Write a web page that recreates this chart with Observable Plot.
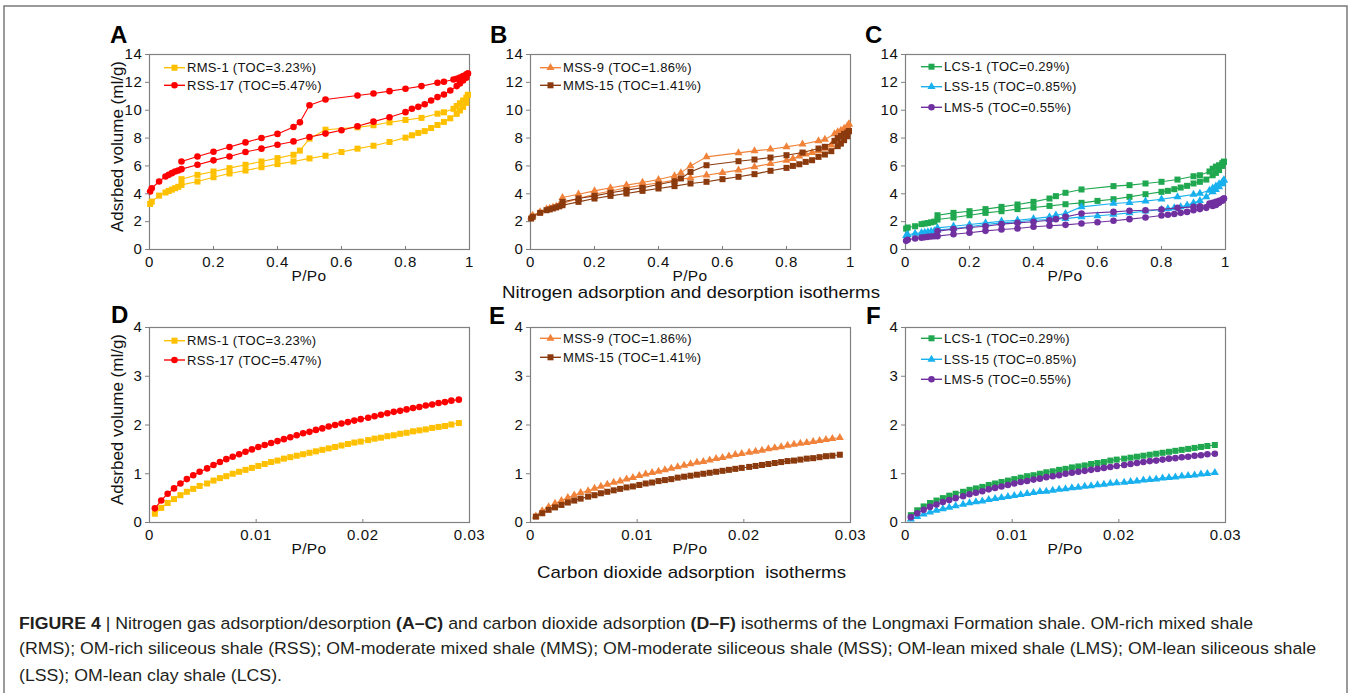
<!DOCTYPE html>
<html><head><meta charset="utf-8">
<script src="https://cdn.jsdelivr.net/npm/d3@7"></script>
<script src="https://cdn.jsdelivr.net/npm/@observablehq/plot@0.6"></script>
<style>
html,body{margin:0;padding:0;background:#fff;}
#root{position:relative;width:1352px;height:693px;overflow:hidden;}
</style></head><body><div id="root"></div>
<script>
// ---------- tick labels ----------
const N2_X_TICKS = [0, 0.2, 0.4, 0.6, 0.8, 1];
const N2_Y_TICKS = [0, 2, 4, 6, 8, 10, 12, 14];
const CO2_X_TICKS = [0, 0.01, 0.02, 0.03];
const CO2_Y_TICKS = [0, 1, 2, 3, 4];

// ---------- N2 relative pressures ----------
const N2_P_ADS = [0.002, 0.007, 0.03, 0.05, 0.06, 0.07, 0.08, 0.09, 0.1, 0.15, 0.2, 0.25, 0.3, 0.35, 0.4, 0.45, 0.5, 0.55, 0.6, 0.65, 0.7, 0.75, 0.8, 0.82, 0.84, 0.86, 0.88, 0.9, 0.92, 0.94, 0.96, 0.97, 0.98, 0.99, 0.995];
const N2_P_DES = [0.995, 0.99, 0.98, 0.97, 0.96, 0.95, 0.92, 0.9, 0.85, 0.8, 0.75, 0.7, 0.65, 0.55, 0.5, 0.47, 0.45, 0.4, 0.35, 0.3, 0.25, 0.2, 0.15, 0.1];

// ---------- N2 adsorbed volume (ml/g) ----------
const RMS1_N2_ADS = [3.27, 3.44, 3.87, 4.09, 4.2, 4.3, 4.4, 4.5, 4.64, 4.88, 5.19, 5.46, 5.67, 5.91, 6.13, 6.32, 6.54, 6.73, 7.0, 7.24, 7.45, 7.72, 8.03, 8.2, 8.37, 8.5, 8.72, 8.94, 9.16, 9.42, 9.74, 9.98, 10.24, 10.53, 11.1];
const RMS1_N2_DES = [11.1, 10.9, 10.7, 10.5, 10.3, 10.1, 9.85, 9.75, 9.45, 9.3, 9.13, 8.92, 8.77, 8.6, 7.96, 7.1, 6.8, 6.56, 6.32, 6.08, 5.84, 5.6, 5.36, 5.05];
const RSS17_N2_ADS = [4.16, 4.4, 4.88, 5.24, 5.36, 5.48, 5.6, 5.67, 5.77, 6.08, 6.4, 6.68, 7.0, 7.24, 7.52, 7.76, 8.08, 8.32, 8.56, 8.85, 9.18, 9.5, 9.86, 10.1, 10.24, 10.43, 10.7, 10.94, 11.13, 11.42, 11.73, 11.92, 12.14, 12.33, 12.64];
const RSS17_N2_DES = [12.64, 12.57, 12.45, 12.35, 12.26, 12.2, 12.04, 11.97, 11.73, 11.54, 11.37, 11.2, 11.06, 10.77, 10.36, 9.13, 8.8, 8.3, 8.0, 7.69, 7.36, 7.02, 6.68, 6.32];
const MSS9_N2_ADS = [2.34, 2.45, 2.7, 2.9, 2.95, 3.02, 3.1, 3.18, 3.3, 3.66, 3.97, 4.2, 4.43, 4.62, 4.78, 4.98, 5.14, 5.33, 5.52, 5.7, 5.93, 6.17, 6.4, 6.53, 6.7, 6.84, 6.96, 7.08, 7.25, 7.49, 7.8, 8.04, 8.28, 8.56, 9.0];
const MSS9_N2_DES = [9.0, 8.85, 8.7, 8.55, 8.45, 8.3, 7.9, 7.8, 7.56, 7.37, 7.2, 7.08, 6.94, 6.65, 6.0, 5.5, 5.29, 5.02, 4.81, 4.62, 4.43, 4.21, 3.97, 3.73];
const MMS15_N2_ADS = [2.22, 2.35, 2.63, 2.82, 2.88, 2.95, 3.02, 3.1, 3.18, 3.42, 3.66, 3.85, 4.02, 4.21, 4.38, 4.55, 4.74, 4.86, 5.05, 5.22, 5.41, 5.65, 5.86, 6.0, 6.12, 6.29, 6.41, 6.65, 6.82, 7.06, 7.42, 7.6, 7.85, 8.13, 8.5];
const MMS15_N2_DES = [8.5, 8.4, 8.3, 8.15, 8.0, 7.8, 7.37, 7.25, 6.96, 6.77, 6.6, 6.46, 6.34, 6.05, 5.57, 5.1, 4.9, 4.67, 4.43, 4.26, 4.07, 3.85, 3.66, 3.42];
const LCS1_N2_ADS = [1.5, 1.58, 1.67, 1.82, 1.86, 1.9, 1.95, 2.0, 2.15, 2.3, 2.46, 2.63, 2.75, 2.9, 3.01, 3.13, 3.25, 3.35, 3.49, 3.61, 3.78, 3.97, 4.14, 4.21, 4.33, 4.45, 4.57, 4.74, 4.86, 5.02, 5.33, 5.5, 5.7, 6.0, 6.3];
const LCS1_N2_DES = [6.3, 6.2, 6.05, 5.95, 5.8, 5.6, 5.33, 5.26, 5.02, 4.86, 4.74, 4.62, 4.55, 4.31, 4.07, 3.83, 3.66, 3.42, 3.23, 3.06, 2.9, 2.75, 2.63, 2.46];
const LSS15_N2_ADS = [1.0, 1.06, 1.15, 1.2, 1.23, 1.27, 1.3, 1.34, 1.39, 1.51, 1.63, 1.8, 1.91, 1.99, 2.1, 2.15, 2.22, 2.34, 2.42, 2.51, 2.63, 2.75, 2.87, 2.93, 2.99, 3.06, 3.18, 3.35, 3.5, 3.78, 4.14, 4.3, 4.5, 4.7, 4.98];
const LSS15_N2_DES = [4.98, 4.85, 4.7, 4.55, 4.4, 4.25, 4.02, 3.95, 3.78, 3.61, 3.47, 3.37, 3.3, 3.06, 2.58, 2.46, 2.34, 2.22, 2.1, 2.03, 1.91, 1.79, 1.67, 1.55];
const LMS5_N2_ADS = [0.62, 0.7, 0.79, 0.85, 0.88, 0.91, 0.93, 0.95, 0.96, 1.1, 1.2, 1.34, 1.44, 1.51, 1.63, 1.7, 1.77, 1.87, 1.96, 2.06, 2.18, 2.3, 2.44, 2.5, 2.55, 2.63, 2.7, 2.82, 2.9, 2.99, 3.13, 3.2, 3.35, 3.5, 3.66];
const LMS5_N2_DES = [3.66, 3.58, 3.5, 3.43, 3.36, 3.3, 3.11, 3.06, 2.99, 2.87, 2.82, 2.78, 2.7, 2.58, 2.34, 2.18, 2.1, 1.99, 1.91, 1.82, 1.67, 1.58, 1.46, 1.32];

// ---------- CO2 relative pressures ----------
const CO2_P = [0.0005, 0.0011, 0.0017, 0.0023, 0.0029, 0.0035, 0.0041, 0.0047, 0.0054, 0.0060, 0.0066, 0.0072, 0.0078, 0.0084, 0.0090, 0.0096, 0.0102, 0.0108, 0.0114, 0.0120, 0.0126, 0.0132, 0.0138, 0.0144, 0.0150, 0.0156, 0.0162, 0.0168, 0.0174, 0.0180, 0.0186, 0.0192, 0.0198, 0.0205, 0.0211, 0.0217, 0.0223, 0.0229, 0.0235, 0.0241, 0.0247, 0.0253, 0.0259, 0.0265, 0.0271, 0.0277, 0.0283, 0.0290];

// ---------- CO2 adsorbed volume (ml/g) ----------
const RMS1_CO2 = [0.18, 0.30, 0.40, 0.48, 0.56, 0.63, 0.69, 0.75, 0.80, 0.86, 0.91, 0.95, 1.00, 1.04, 1.08, 1.12, 1.16, 1.20, 1.24, 1.27, 1.31, 1.34, 1.37, 1.40, 1.43, 1.46, 1.49, 1.52, 1.55, 1.58, 1.61, 1.64, 1.66, 1.69, 1.72, 1.74, 1.77, 1.79, 1.82, 1.84, 1.87, 1.89, 1.91, 1.94, 1.96, 1.98, 2.01, 2.04];
const RSS17_CO2 = [0.29, 0.45, 0.59, 0.70, 0.80, 0.89, 0.97, 1.04, 1.11, 1.18, 1.24, 1.30, 1.35, 1.40, 1.45, 1.50, 1.55, 1.59, 1.63, 1.67, 1.71, 1.75, 1.79, 1.83, 1.86, 1.90, 1.93, 1.97, 2.00, 2.03, 2.06, 2.09, 2.12, 2.15, 2.18, 2.21, 2.24, 2.27, 2.29, 2.32, 2.35, 2.37, 2.40, 2.42, 2.45, 2.47, 2.50, 2.52];
const MSS9_CO2 = [0.13, 0.24, 0.32, 0.39, 0.45, 0.51, 0.56, 0.61, 0.65, 0.70, 0.74, 0.78, 0.82, 0.85, 0.89, 0.92, 0.96, 0.99, 1.02, 1.05, 1.08, 1.11, 1.14, 1.17, 1.20, 1.23, 1.25, 1.28, 1.31, 1.33, 1.36, 1.39, 1.41, 1.44, 1.46, 1.48, 1.51, 1.53, 1.55, 1.58, 1.60, 1.62, 1.64, 1.66, 1.68, 1.70, 1.72, 1.74];
const MMS15_CO2 = [0.12, 0.19, 0.26, 0.31, 0.36, 0.41, 0.45, 0.49, 0.53, 0.56, 0.60, 0.63, 0.66, 0.69, 0.72, 0.74, 0.77, 0.80, 0.82, 0.85, 0.87, 0.89, 0.92, 0.94, 0.96, 0.98, 1.00, 1.02, 1.04, 1.06, 1.08, 1.10, 1.12, 1.14, 1.16, 1.18, 1.20, 1.22, 1.24, 1.26, 1.27, 1.29, 1.31, 1.32, 1.34, 1.36, 1.37, 1.39];
const LCS1_CO2 = [0.15, 0.25, 0.33, 0.40, 0.45, 0.50, 0.55, 0.59, 0.63, 0.67, 0.70, 0.73, 0.77, 0.80, 0.83, 0.86, 0.89, 0.92, 0.95, 0.97, 1.00, 1.03, 1.05, 1.08, 1.10, 1.13, 1.15, 1.17, 1.20, 1.22, 1.24, 1.27, 1.29, 1.31, 1.33, 1.35, 1.37, 1.39, 1.41, 1.43, 1.45, 1.47, 1.49, 1.51, 1.53, 1.55, 1.57, 1.59];
const LSS15_CO2 = [0.07, 0.12, 0.17, 0.21, 0.25, 0.28, 0.31, 0.34, 0.37, 0.40, 0.42, 0.44, 0.47, 0.49, 0.51, 0.53, 0.55, 0.57, 0.59, 0.61, 0.63, 0.64, 0.66, 0.68, 0.69, 0.71, 0.72, 0.74, 0.75, 0.77, 0.78, 0.80, 0.81, 0.82, 0.84, 0.85, 0.87, 0.88, 0.89, 0.91, 0.92, 0.93, 0.95, 0.96, 0.97, 0.99, 1.00, 1.02];
const LMS5_CO2 = [0.11, 0.19, 0.26, 0.32, 0.37, 0.42, 0.46, 0.50, 0.54, 0.58, 0.61, 0.64, 0.68, 0.71, 0.74, 0.77, 0.80, 0.83, 0.85, 0.88, 0.90, 0.93, 0.95, 0.97, 1.00, 1.02, 1.04, 1.06, 1.08, 1.10, 1.12, 1.14, 1.16, 1.18, 1.20, 1.22, 1.24, 1.26, 1.27, 1.29, 1.31, 1.32, 1.34, 1.35, 1.37, 1.38, 1.40, 1.41];

// ---------- sample names ----------
const SAMPLE_LABELS = {
  RMS1: "RMS-1 (TOC=3.23%)", RSS17: "RSS-17 (TOC=5.47%)",
  MSS9: "MSS-9 (TOC=1.86%)", MMS15: "MMS-15 (TOC=1.41%)",
  LCS1: "LCS-1 (TOC=0.29%)", LSS15: "LSS-15 (TOC=0.85%)", LMS5: "LMS-5 (TOC=0.55%)"
};
const Y_TITLE = "Adsrbed volume (ml/g)";
const X_TITLE = "P/Po";
const N2_TITLE = "Nitrogen adsorption and desorption isotherms";
const CO2_TITLE = "Carbon dioxide adsorption  isotherms";

// ---------- styling ----------
const FONT = '"Liberation Sans", Arial, Helvetica, sans-serif';
const STYLE = {
  RMS1: {color: "#FFC000", symbol: "square"},
  RSS17: {color: "#FF0000", symbol: "circle"},
  MSS9: {color: "#F0823A", symbol: "triangle"},
  MMS15: {color: "#8B3A0E", symbol: "square"},
  LCS1: {color: "#1FA84F", symbol: "square"},
  LSS15: {color: "#18B0EE", symbol: "triangle"},
  LMS5: {color: "#7030A0", symbol: "circle"}
};
const R = {square: 3.4, circle: 3.3, triangle: 3.0};

const rows = (ps, vs) => ps.map((p, i) => ({p, v: vs[i]}));

const N2 = {
  RMS1: [rows(N2_P_ADS, RMS1_N2_ADS), rows(N2_P_DES, RMS1_N2_DES)],
  RSS17: [rows(N2_P_ADS, RSS17_N2_ADS), rows(N2_P_DES, RSS17_N2_DES)],
  MSS9: [rows(N2_P_ADS, MSS9_N2_ADS), rows(N2_P_DES, MSS9_N2_DES)],
  MMS15: [rows(N2_P_ADS, MMS15_N2_ADS), rows(N2_P_DES, MMS15_N2_DES)],
  LCS1: [rows(N2_P_ADS, LCS1_N2_ADS), rows(N2_P_DES, LCS1_N2_DES)],
  LSS15: [rows(N2_P_ADS, LSS15_N2_ADS), rows(N2_P_DES, LSS15_N2_DES)],
  LMS5: [rows(N2_P_ADS, LMS5_N2_ADS), rows(N2_P_DES, LMS5_N2_DES)]
};
const CO2 = {
  RMS1: [rows(CO2_P, RMS1_CO2)], RSS17: [rows(CO2_P, RSS17_CO2)],
  MSS9: [rows(CO2_P, MSS9_CO2)], MMS15: [rows(CO2_P, MMS15_CO2)],
  LCS1: [rows(CO2_P, LCS1_CO2)], LSS15: [rows(CO2_P, LSS15_CO2)], LMS5: [rows(CO2_P, LMS5_CO2)]
};

const FW = 320, FH = 195, ML = 49, MT = 14, MR = 6, MB = 41;
const PANELS = [
  {id: "A", L: 149, T: 54, data: N2, keys: ["RMS1", "RSS17"], xT: N2_X_TICKS, yT: N2_Y_TICKS, xD: [0, 1], yD: [0, 14], lx: 164, tx: 187, ry: [67.7, 85.3], letter: [110, 43], ytitle: true},
  {id: "B", L: 530, T: 54, data: N2, keys: ["MSS9", "MMS15"], xT: N2_X_TICKS, yT: N2_Y_TICKS, xD: [0, 1], yD: [0, 14], lx: 540, tx: 563, ry: [67.7, 85.3], letter: [490, 43]},
  {id: "C", L: 905, T: 54, data: N2, keys: ["LCS1", "LSS15", "LMS5"], xT: N2_X_TICKS, yT: N2_Y_TICKS, xD: [0, 1], yD: [0, 14], lx: 921, tx: 944, ry: [66.7, 86.7, 107.3], letter: [865, 43]},
  {id: "D", L: 149, T: 327, data: CO2, keys: ["RMS1", "RSS17"], xT: CO2_X_TICKS, yT: CO2_Y_TICKS, xD: [0, 0.03], yD: [0, 4], lx: 164, tx: 187, ry: [340.7, 360], letter: [111, 323], ytitle: true},
  {id: "E", L: 530, T: 327, data: CO2, keys: ["MSS9", "MMS15"], xT: CO2_X_TICKS, yT: CO2_Y_TICKS, xD: [0, 0.03], yD: [0, 4], lx: 540, tx: 563, ry: [338.3, 357.3], letter: [489, 324]},
  {id: "F", L: 905, T: 327, data: CO2, keys: ["LCS1", "LSS15", "LMS5"], xT: CO2_X_TICKS, yT: CO2_Y_TICKS, xD: [0, 0.03], yD: [0, 4], lx: 921, tx: 944, ry: [338.3, 359.3, 379.3], letter: [866, 324]}
];

const root = document.getElementById("root");
const fmt = d3.format("~g");
const NS = "http://www.w3.org/2000/svg";

for (const P of PANELS) {
  const marks = [Plot.frame({stroke: "#808080", strokeWidth: 1.2})];
  for (const k of P.keys) {
    const st = STYLE[k];
    for (const seg of P.data[k]) marks.push(Plot.line(seg, {x: "p", y: "v", stroke: st.color, strokeWidth: 1.1}));
    marks.push(Plot.dot(P.data[k].flat(), {x: "p", y: "v", symbol: st.symbol, fill: st.color, r: R[st.symbol]}));
  }
  marks.push(Plot.axisY({ticks: P.yT, tickFormat: fmt, tickSize: 4, tickPadding: 3, label: null, stroke: "#808080", fill: "#111", fontSize: 15}));
  marks.push(Plot.axisX({ticks: P.xT, tickFormat: fmt, tickSize: -3, tickPadding: 10, label: null, stroke: "#808080", fill: "#111", fontSize: 15}));
  const svg = Plot.plot({
    width: ML + FW + MR, height: MT + FH + MB,
    marginLeft: ML, marginRight: MR, marginTop: MT, marginBottom: MB,
    x: {domain: P.xD}, y: {domain: P.yD},
    style: {fontFamily: FONT, fontSize: "15px", color: "#111", background: "transparent", overflow: "visible", letterSpacing: "0.6px"},
    marks
  });
  svg.style.position = "absolute";
  svg.style.left = (P.L - ML) + "px";
  svg.style.top = (P.T - MT) + "px";
  root.appendChild(svg);
}

// ---------- overlay: text, legends, border ----------
const ov = document.createElementNS(NS, "svg");
ov.setAttribute("width", 1352); ov.setAttribute("height", 693);
ov.style.position = "absolute"; ov.style.left = "0"; ov.style.top = "0";
ov.style.fontFamily = FONT;
root.appendChild(ov);

function el(tag, attrs, parent = ov, text) {
  const e = document.createElementNS(NS, tag);
  for (const [k, v] of Object.entries(attrs)) e.setAttribute(k, v);
  if (text != null) e.textContent = text;
  parent.appendChild(e);
  return e;
}

el("rect", {x: 4, y: 6, width: 1343, height: 720, fill: "none", stroke: "#7a7a7a", "stroke-width": 1.5});

for (const P of PANELS) {
  el("text", {x: P.letter[0], y: P.letter[1], "font-size": 24, "font-weight": "bold", fill: "#000"}, ov, P.id);
  el("text", {x: P.L + FW / 2, y: P.T + FH + 26, "font-size": 15.5, "text-anchor": "middle", "dominant-baseline": "central", fill: "#111", "letter-spacing": "0.4"}, ov, X_TITLE);
  if (P.ytitle) {
    const cy = P.T + FH / 2 - 5;
    el("text", {x: 0, y: 0, transform: `translate(117.5,${cy}) rotate(-90)`, "font-size": 17, "text-anchor": "middle", "dominant-baseline": "central", fill: "#111"}, ov, Y_TITLE);
  }
  P.keys.forEach((k, i) => {
    const st = STYLE[k], y = P.ry[i];
    el("line", {x1: P.lx, x2: P.lx + 21, y1: y, y2: y, stroke: st.color, "stroke-width": 1.4});
    const sym = {square: d3.symbolSquare, circle: d3.symbolCircle, triangle: d3.symbolTriangle}[st.symbol];
    const r = R[st.symbol];
    el("path", {d: d3.symbol(sym, Math.PI * r * r)(), transform: `translate(${P.lx + 10.5},${y})`, fill: st.color});
    el("text", {x: P.tx, y: y, "font-size": 13, "dominant-baseline": "central", fill: "#111", "letter-spacing": "0.3"}, ov, SAMPLE_LABELS[k]);
  });
}

el("text", {x: 502, y: 292.5, "font-size": 17, "dominant-baseline": "central", fill: "#111", textLength: 378, lengthAdjust: "spacingAndGlyphs"}, ov, N2_TITLE);
const co2t = el("text", {x: 537, y: 572, "font-size": 17, "dominant-baseline": "central", fill: "#111", textLength: 309, lengthAdjust: "spacingAndGlyphs"}, ov, CO2_TITLE);
co2t.setAttributeNS("http://www.w3.org/XML/1998/namespace", "xml:space", "preserve");
co2t.style.whiteSpace = "pre";

// ---------- caption ----------
const CAPTION_LINES = [
  [["FIGURE 4", true], [" | Nitrogen gas adsorption/desorption ", false], ["(A–C)", true], [" and carbon dioxide adsorption ", false], ["(D–F)", true], [" isotherms of the Longmaxi Formation shale. OM-rich mixed shale", false]],
  [["(RMS); OM-rich siliceous shale (RSS); OM-moderate mixed shale (MMS); OM-moderate siliceous shale (MSS); OM-lean mixed shale (LMS); OM-lean siliceous shale", false]],
  [["(LSS); OM-lean clay shale (LCS).", false]]
];
const baselines = [628.5, 654, 681];
const capTexts = CAPTION_LINES.map((parts, i) => {
  const t = el("text", {x: 0, y: 0, "font-size": 17, fill: "#231f20"});
  t.setAttribute("transform", `translate(19,${baselines[i]})`);
  for (const [s, b] of parts) el("tspan", b ? {"font-weight": "bold"} : {}, t, s);
  return t;
});
const natural = capTexts[1].getComputedTextLength();
const sx = 1298 / natural;
capTexts.forEach((t, i) => t.setAttribute("transform", `translate(19,${baselines[i]}) scale(${sx},1)`));
</script>
</body></html>
